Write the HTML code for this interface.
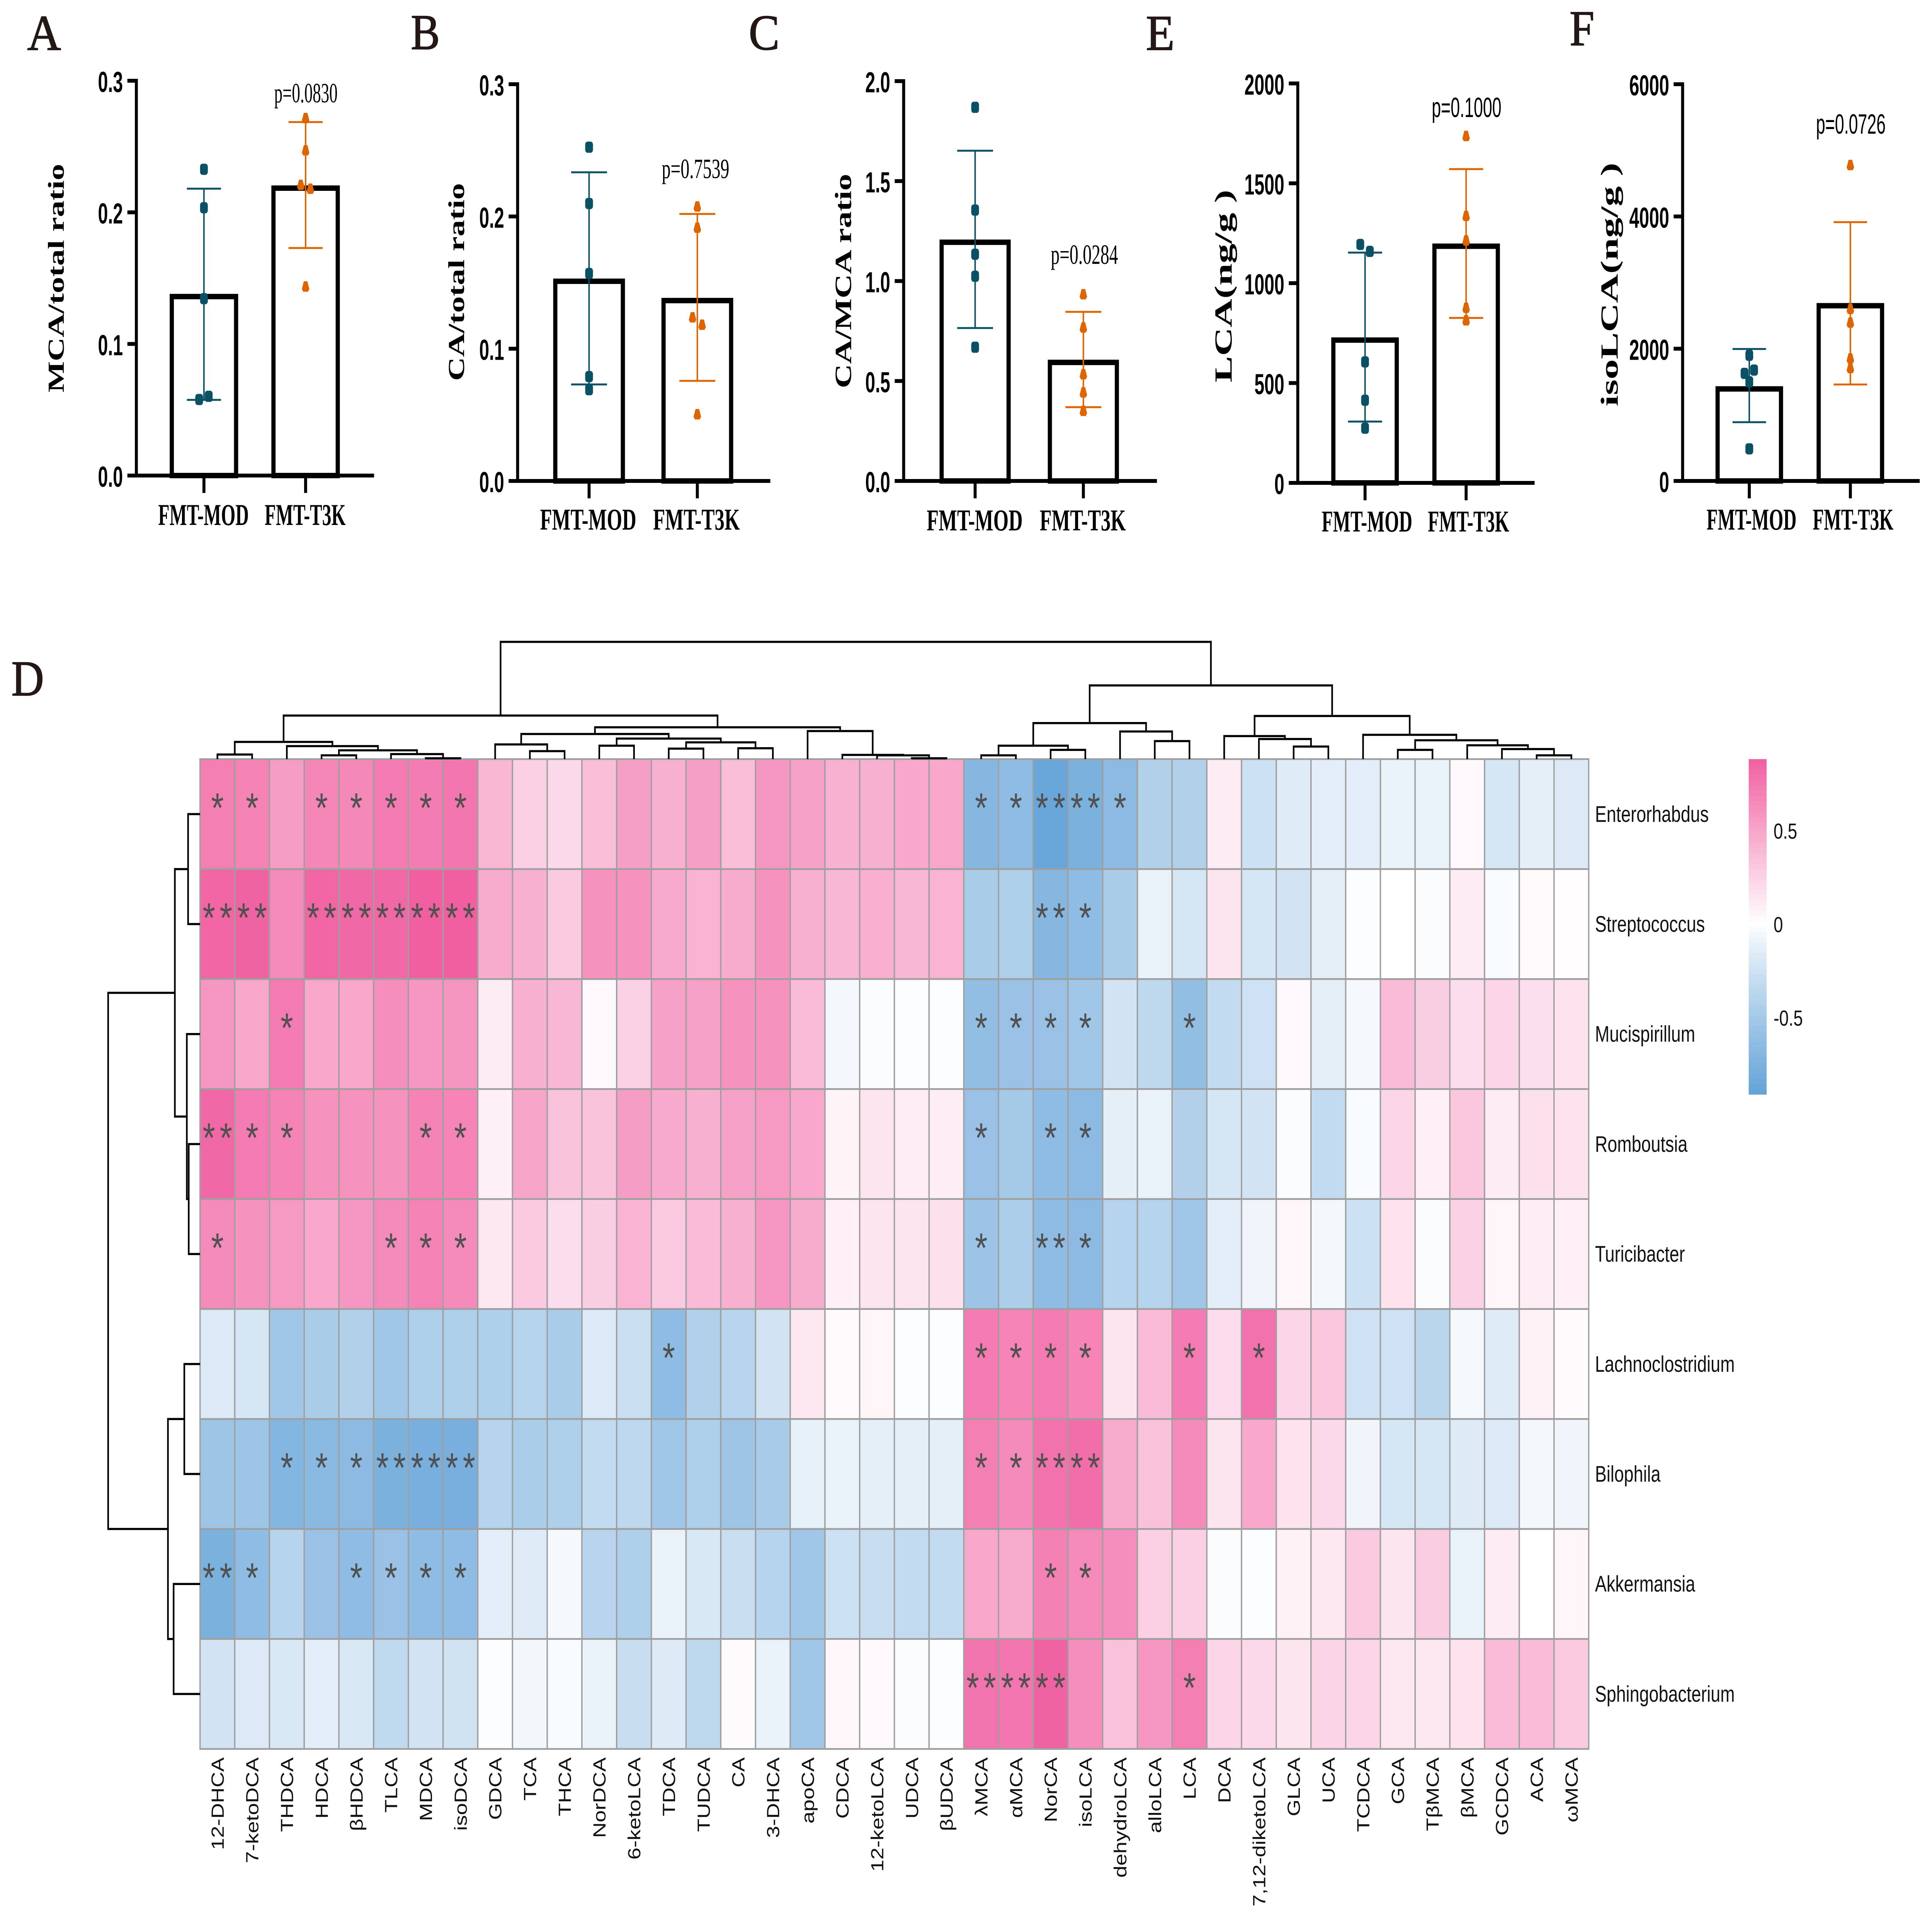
<!DOCTYPE html>
<html lang="en">
<head>
<meta charset="utf-8">
<title>Bile acid ratios and correlation heatmap</title>
<style>
html,body{margin:0;padding:0;background:#fff;width:100%;height:100%;overflow:hidden;}
svg{display:block;width:100vw;height:100vh;}
</style>
</head>
<body>
<svg id="figure" xmlns="http://www.w3.org/2000/svg" viewBox="0 0 6461 4983" preserveAspectRatio="none">
<rect x="0" y="0" width="6461" height="4983" fill="#fff"/>
<g font-family="'Liberation Serif',serif" font-size="130" fill="#231815" stroke="#231815" stroke-width="2">
<text x="91" y="129" textLength="113" lengthAdjust="spacingAndGlyphs">A</text>
<text x="1374" y="127" textLength="97" lengthAdjust="spacingAndGlyphs">B</text>
<text x="2504" y="128" textLength="103" lengthAdjust="spacingAndGlyphs">C</text>
<text x="38" y="1800" textLength="109" lengthAdjust="spacingAndGlyphs">D</text>
<text x="3832" y="129" textLength="96" lengthAdjust="spacingAndGlyphs">E</text>
<text x="5249" y="117" textLength="83" lengthAdjust="spacingAndGlyphs">F</text>
</g>
</svg>
<script>
// ---------- bar chart data ----------
const groups = ['FMT-MOD', 'FMT-T3K'];

const aBars = [0.136, 0.2184];
const aMod = [0.2327, 0.2035, 0.1344, 0.0578, 0.0602];
const aT3k = [0.2715, 0.247, 0.2207, 0.2178, 0.1435];
const aErrMod = [0.0575, 0.218];
const aErrT3k = [0.1729, 0.2686];
const aTicks = [0, 0.1, 0.2, 0.3];
const aTickLabels = ['0.0', '0.1', '0.2', '0.3'];

const bBars = [0.151, 0.1364];
const bMod = [0.2524, 0.2098, 0.1569, 0.0789, 0.069];
const bT3k = [0.2074, 0.1914, 0.1236, 0.118, 0.0503];
const bErrMod = [0.073, 0.2334];
const bErrT3k = [0.0757, 0.2019];
const bTicks = [0, 0.1, 0.2, 0.3];
const bTickLabels = ['0.0', '0.1', '0.2', '0.3'];

const cBars = [1.194, 0.593];
const cMod = [1.869, 1.355, 1.134, 1.024, 0.669];
const cT3k = [0.933, 0.767, 0.533, 0.442, 0.35];
const cErrMod = [0.765, 1.652];
const cErrT3k = [0.369, 0.846];
const cTicks = [0, 0.5, 1, 1.5, 2];
const cTickLabels = ['0.0', '0.5', '1.0', '1.5', '2.0'];

const eBars = [715, 1185];
const eMod = [1194, 1159, 606, 414, 274];
const eT3k = [1736, 1336, 1213, 876, 813];
const eErrMod = [307, 1153];
const eErrT3k = [826, 1571];
const eTicks = [0, 500, 1000, 1500, 2000];
const eTickLabels = ['0', '500', '1000', '1500', '2000'];

const fBars = [1392, 2650];
const fMod = [1901, 1627, 1677, 1499, 486];
const fT3k = [4775, 2600, 2393, 1851, 1705];
const fErrMod = [889, 1996];
const fErrT3k = [1459, 3914];
const fTicks = [0, 2000, 4000, 6000];
const fTickLabels = ['0', '2000', '4000', '6000'];

const pValues = ['p=0.0830', 'p=0.7539', 'p=0.0284', 'p=0.1000', 'p=0.0726'];
const yTitles = ['MCA/total ratio', 'CA/total ratio', 'CA/MCA ratio', 'LCA(ng/g )', 'isoLCA(ng/g )'];

// ---------- heatmap data ----------
const metabolites = ['12-DHCA','7-ketoDCA','THDCA','HDCA','βHDCA','TLCA','MDCA','isoDCA','GDCA','TCA','THCA','NorDCA','6-ketoLCA','TDCA','TUDCA','CA','3-DHCA','apoCA','CDCA','12-ketoLCA','UDCA','βUDCA','λMCA','αMCA','NorCA','isoLCA','dehydroLCA','alloLCA','LCA','DCA','7,12-diketoLCA','GLCA','UCA','TCDCA','GCA','TβMCA','βMCA','GCDCA','ACA','ωMCA'];
const genera = ['Enterorhabdus','Streptococcus','Mucispirillum','Romboutsia','Turicibacter','Lachnoclostridium','Bilophila','Akkermansia','Sphingobacterium'];

const corrEnterorhabdus = [.68,.66,.52,.64,.63,.7,.69,.72,.39,.25,.2,.34,.51,.42,.51,.35,.55,.5,.41,.42,.46,.47,-.66,-.6,-.83,-.72,-.62,-.4,-.4,.1,-.25,-.15,-.13,-.13,-.1,-.1,.03,-.2,-.12,-.17];
const corrStreptococcus = [.82,.83,.62,.82,.8,.8,.85,.85,.44,.42,.28,.58,.58,.45,.4,.44,.58,.42,.38,.43,.38,.4,-.45,-.42,-.66,-.6,-.45,-.1,-.2,.14,-.2,-.22,-.12,-.01,0,-.02,.1,-.03,.02,.01];
const corrMucispirillum = [.55,.47,.7,.47,.47,.6,.55,.56,.1,.42,.38,.03,.24,.5,.5,.58,.58,.36,-.05,-.02,-.01,-.01,-.58,-.55,-.55,-.5,-.22,-.33,-.58,-.3,-.24,.04,-.12,-.04,.36,.26,.18,.22,.17,.15];
const corrRomboutsia = [.8,.7,.66,.58,.58,.58,.66,.65,.08,.48,.32,.32,.52,.45,.42,.5,.54,.46,.06,.14,.09,.09,-.55,-.47,-.6,-.62,-.12,-.1,-.4,-.2,-.22,-.02,-.3,-.03,.22,.08,.3,.1,.16,.15];
const corrTuricibacter = [.62,.58,.54,.46,.55,.62,.66,.62,.12,.28,.18,.26,.4,.28,.36,.42,.55,.44,.08,.14,.14,.16,-.53,-.43,-.6,-.62,-.38,-.38,-.5,-.13,-.07,.05,-.05,-.25,.15,-.02,.24,.05,.09,.08];
const corrLachnoclostridium = [-.17,-.2,-.5,-.45,-.4,-.5,-.42,-.42,-.42,-.38,-.45,-.17,-.26,-.6,-.4,-.36,-.22,.13,.02,.05,-.01,-.01,.7,.65,.7,.65,.14,.36,.7,.19,.75,.22,.3,-.24,-.24,-.35,-.04,-.15,.07,.02];
const corrBilophila = [-.52,-.52,-.67,-.64,-.62,-.72,-.74,-.74,-.38,-.44,-.42,-.3,-.34,-.5,-.42,-.52,-.46,-.11,-.1,-.12,-.12,-.12,.68,.62,.75,.77,.44,.33,.62,.14,.46,.15,.2,-.07,-.2,-.2,-.16,-.17,-.05,-.07];
const corrAkkermansia = [-.72,-.6,-.37,-.55,-.6,-.55,-.6,-.6,-.13,-.15,-.04,-.36,-.42,-.1,-.18,-.27,-.38,-.5,-.25,-.28,-.3,-.3,.47,.44,.67,.62,.6,.25,.25,-.02,-.01,.07,.12,.28,.14,.27,-.1,.1,0,.05];
const corrSphingobacterium = [-.22,-.17,-.18,-.13,-.18,-.32,-.22,-.23,-.01,-.06,-.03,-.09,-.28,-.16,-.33,.02,-.1,-.5,.05,.03,-.02,-.01,.74,.72,.83,.6,.33,.55,.68,.22,.2,.14,.23,.22,.13,.12,.15,.36,.36,.28];
const corrMatrix = [corrEnterorhabdus, corrStreptococcus, corrMucispirillum, corrRomboutsia, corrTuricibacter, corrLachnoclostridium, corrBilophila, corrAkkermansia, corrSphingobacterium];

// star count per cell, one digit per metabolite
const starRows = [
  '11011111 00000000000000 1122100 00000000000',
  '22022222 00000000000000 0021000 00000000000',
  '00100000 00000000000000 1111001 00000000000',
  '21100011 00000000000000 1011000 00000000000',
  '10000111 00000000000000 1021000 00000000000',
  '00000000 00000100000000 1111001 01000000000',
  '00111222 00000000000000 1122000 00000000000',
  '21001111 00000000000000 0011000 00000000000',
  '00000000 00000000000000 2220001 00000000000'
];

// dendrogram merges: [childA, childB, height]; ids >= leaf count refer to earlier merges
const colMerges = [[0,1,11],[6,7,2],[5,41,12],[3,4,9],[43,42,21],[2,44,31],[40,45,41],[9,10,19],[8,47,35],[11,12,32],[13,14,25],[15,16,26],[50,51,40],[49,52,49],[48,53,60],[20,21,2],[19,55,9],[18,56,10],[17,57,67],[54,58,76],[46,59,104],[22,23,9],[24,25,22],[61,62,32],[27,28,43],[26,64,66],[63,65,86],[31,32,30],[30,67,48],[29,68,55],[38,39,9],[37,70,24],[36,71,33],[34,35,22],[73,72,45],[33,74,58],[69,75,103],[66,76,176],[60,77,280]];
const rowMerges = [[0,1,19],[3,4,18],[2,10,21],[9,11,40],[5,6,25],[7,8,42],[13,14,51],[12,15,146]];

const legendTicks = [0.5, 0, -0.5];
const legendTickLabels = ['0.5', '0', '-0.5'];

// ---------- layout ----------
const SERIF = "'Liberation Serif',serif";
const SANS = "'Liberation Sans',sans-serif";
const panels = [
  {id:'a', bars:aBars, mod:aMod, t3k:aT3k, errMod:aErrMod, errT3k:aErrT3k, ticks:aTicks, tickLabels:aTickLabels, max:0.3, p:pValues[0], title:yTitles[0],
   axisX:456, yTop:209, yZero:1231, xEnd:1251, centers:[682,1022], half:107.5, cap:57,
   titleBase:213, titleY:[424,1016], titleSize:76, pBox:[917,265,212], pFont:SERIF, labelBase:1359, labelBoxes:[[529,303],[885,271]]},
  {id:'b', bars:bBars, mod:bMod, t3k:bT3k, errMod:bErrMod, errT3k:bErrT3k, ticks:bTicks, tickLabels:bTickLabels, max:0.3, p:pValues[1], title:yTitles[1],
   axisX:1731, yTop:218, yZero:1245, xEnd:2576, centers:[1970,2332], half:113, cap:60,
   titleBase:1552, titleY:[474,986], titleSize:76, pBox:[2213,461,226], pFont:SERIF, labelBase:1371, labelBoxes:[[1806,322],[2184,290]]},
  {id:'c', bars:cBars, mod:cMod, t3k:cT3k, errMod:cErrMod, errT3k:cErrT3k, ticks:cTicks, tickLabels:cTickLabels, max:2, p:pValues[2], title:yTitles[2],
   axisX:3022, yTop:210, yZero:1245, xEnd:3869, centers:[3261,3623], half:112, cap:60,
   titleBase:2846, titleY:[450,1005], titleSize:78, pBox:[3514,683,225], pFont:SERIF, labelBase:1373, labelBoxes:[[3099,321],[3477,288]]},
  {id:'e', bars:eBars, mod:eMod, t3k:eT3k, errMod:eErrMod, errT3k:eErrT3k, ticks:eTicks, tickLabels:eTickLabels, max:2000, p:pValues[3], title:yTitles[3],
   axisX:4340, yTop:216, yZero:1250, xEnd:5132, centers:[4565,4903], half:106, cap:57,
   titleBase:4119, titleY:[491,990], titleSize:82, pBox:[4788,303,233], pFont:SANS, labelBase:1376, labelBoxes:[[4420,303],[4775,272]]},
  {id:'f', bars:fBars, mod:fMod, t3k:fT3k, errMod:fErrMod, errT3k:fErrT3k, ticks:fTicks, tickLabels:fTickLabels, max:6000, p:pValues[4], title:yTitles[4],
   axisX:5627, yTop:218, yZero:1245, xEnd:6420, centers:[5850,6188], half:106, cap:56,
   titleBase:5410, titleY:[421,1052], titleSize:82, pBox:[6073,346,233], pFont:SANS, labelBase:1371, labelBoxes:[[5707,301],[6062,270]]}
];
const TEAL = '#0b5166';
const ORANGE = '#dd6400';
const NS = 'http://www.w3.org/2000/svg';
const svg = document.getElementById('figure');

function mk(tag, attrs, parent) {
  const node = document.createElementNS(NS, tag);
  for (const k in attrs) node.setAttribute(k, attrs[k]);
  parent.appendChild(node);
  return node;
}

// ---------- bar panels ----------
function dodge(values, max) {
  const offsets = values.map(() => 0);
  const pattern = [-16, 16, 0];
  let run = 0;
  for (let i = 1; i < values.length; i++) {
    if (Math.abs(values[i] - values[i - 1]) / max < 0.024) {
      if (run === 0) offsets[i - 1] = pattern[0];
      run++;
      offsets[i] = pattern[run % 3];
    } else {
      run = 0;
    }
  }
  return offsets;
}

panels.forEach(function (p) {
  const y = v => p.yZero - (v / p.max) * (p.yZero - p.yTop);
  const g = mk('g', {}, svg);
  
  

  // bars
  p.bars.forEach(function (v, i) {
    const bar = mk('rect', {x: p.centers[i] - p.half, y: y(v), width: p.half * 2, height: p.yZero - y(v), fill: 'none', stroke: '#000', 'stroke-width': 14}, g);
    
    
  });

  // axes
  const yAxis = mk('rect', {x: p.axisX - 5, y: p.yTop - 5, width: 10, height: p.yZero - p.yTop + 10, fill: '#000'}, g);
  
  
  const xAxis = mk('rect', {x: p.axisX - 5, y: p.yZero - 5, width: p.xEnd - p.axisX + 5, height: 10, fill: '#000'}, g);
  
  

  p.ticks.forEach(function (t, i) {
    const tick = mk('rect', {x: p.axisX - 30, y: y(t) - 5, width: 30, height: 10, fill: '#000'}, g);
    
    
    const label = mk('text', {transform: 'translate(' + (p.axisX - 45) + ',' + (y(t) + 29) + ') scale(0.8,1)', 'text-anchor': 'end', 'font-family': SANS, 'font-weight': 'bold', 'font-size': 75, fill: '#000'}, g);
    label.textContent = p.tickLabels[i];
    
    
  });

  groups.forEach(function (name, i) {
    const tick = mk('rect', {x: p.centers[i] - 5, y: p.yZero, width: 10, height: 45, fill: '#000'}, g);
    
    
    const label = mk('text', {x: p.labelBoxes[i][0], y: p.labelBase, textLength: p.labelBoxes[i][1], lengthAdjust: 'spacingAndGlyphs', 'font-family': SERIF, 'font-weight': 'bold', 'font-size': 78, fill: '#000'}, g);
    label.textContent = name;
    
    
  });

  // y title
  const title = mk('text', {transform: 'translate(' + p.titleBase + ',' + p.titleY[1] + ') rotate(-90)', textLength: p.titleY[1] - p.titleY[0], lengthAdjust: 'spacingAndGlyphs', 'font-family': SERIF, 'font-weight': 'bold', 'font-size': p.titleSize, fill: '#000'}, g);
  title.textContent = p.title;
  
  

  // p value
  const pv = mk('text', {x: p.pBox[0], y: p.pBox[1], textLength: p.pBox[2], lengthAdjust: 'spacingAndGlyphs', 'font-family': p.pFont, 'font-size': 72, fill: '#000'}, g);
  pv.textContent = p.p;
  
  

  // error bars
  [[p.errMod, TEAL, 0], [p.errT3k, ORANGE, 1]].forEach(function (spec) {
    const cx = p.centers[spec[2]];
    const stem = mk('line', {x1: cx, x2: cx, y1: y(spec[0][0]), y2: y(spec[0][1]), stroke: spec[1], 'stroke-width': 5}, g);
    
    
    spec[0].forEach(function (v) {
      const cap = mk('line', {x1: cx - p.cap, x2: cx + p.cap, y1: y(v), y2: y(v), stroke: spec[1], 'stroke-width': 5}, g);
      
      
    });
  });

  // points
  const modOffsets = dodge(p.mod, p.max);
  p.mod.forEach(function (v, i) {
    const pt = mk('rect', {x: p.centers[0] + modOffsets[i] - 13, y: y(v) - 14.5, width: 26, height: 29, rx: 8, fill: TEAL}, g);
    
    
  });
  const t3kOffsets = dodge(p.t3k, p.max);
  p.t3k.forEach(function (v, i) {
    const px = p.centers[1] + t3kOffsets[i];
    const py = y(v);
    const pt = mk('path', {d: 'M' + (px - 6) + ' ' + (py - 14) + 'H' + (px + 6) + 'L' + (px + 12.5) + ' ' + (py + 6) + 'L' + (px + 8) + ' ' + (py + 13) + 'H' + (px - 8) + 'L' + (px - 12.5) + ' ' + (py + 6) + 'Z', fill: ORANGE}, g);
    
    
  });
});

// ---------- heatmap ----------
const HM = {left: 669, top: 1965, cellW: 116.1, cellH: 284.7};
const colX = i => HM.left + HM.cellW * i;
const rowY = i => HM.top + HM.cellH * i;
const POS = [240, 95, 160];
const NEG = [102, 164, 216];
function corrColor(v) {
  const linear = Math.min(Math.abs(v) / 0.85, 1);
  const t = v >= 0 ? linear : Math.pow(linear, 0.9);
  const c = v >= 0 ? POS : NEG;
  return 'rgb(' + c.map(x => Math.round(255 + (x - 255) * t)).join(',') + ')';
}

const hm = mk('g', {}, svg);



corrMatrix.forEach(function (row, r) {
  row.forEach(function (v, c) {
    const cell = mk('rect', {x: colX(c), y: rowY(r), width: HM.cellW, height: HM.cellH, fill: corrColor(v), stroke: '#9f9f9f', 'stroke-width': 4.5}, hm);
    
    
  });
});
const STAR_SIZE = 108;
const STAR_GAP = 15;
const starGroup = mk('g', {'font-family': SANS, 'font-size': STAR_SIZE, 'letter-spacing': STAR_GAP, fill: '#505050', 'text-anchor': 'middle'}, hm);


starRows.forEach(function (s, r) {
  s.replace(/ /g, '').split('').forEach(function (d, c) {
    const n = Number(d);
    if (!n) return;
    const star = mk('text', {x: colX(c) + HM.cellW / 2 + STAR_GAP / 2, y: rowY(r) + 163}, starGroup);
    star.textContent = '*'.repeat(n);
    
    
  });
});
metabolites.forEach(function (name, c) {
  const label = mk('text', {transform: 'translate(' + (colX(c) + HM.cellW / 2 + 21) + ',4549) rotate(-90) scale(0.95,1)', 'text-anchor': 'end', 'font-family': SANS, 'font-size': 59, fill: '#111'}, hm);
  label.textContent = name;
  
  
});
genera.forEach(function (name, r) {
  const label = mk('text', {x: 5334, y: rowY(r) + HM.cellH / 2 + 20, 'font-family': SANS, 'font-size': 58, fill: '#111'}, hm);
  label.textContent = name;
  
  
});

// ---------- dendrograms ----------
function drawDendro(merges, leafCount, leafPos, place, name) {
  const g = mk('g', {fill: 'none', stroke: '#000', 'stroke-width': 5.5}, svg);
  
  
  const pos = [];
  const height = [];
  for (let i = 0; i < leafCount; i++) { pos[i] = leafPos(i); height[i] = 0; }
  merges.forEach(function (m, k) {
    const id = leafCount + k;
    pos[id] = (pos[m[0]] + pos[m[1]]) / 2;
    height[id] = m[2];
    const link = mk('path', {d: place(pos[m[0]], height[m[0]], pos[m[1]], height[m[1]], m[2])}, g);
    
    
  });
}
const colHeightY = h => HM.top - 1.084 * h;
const rowHeightX = h => HM.left - 2.105 * h;
drawDendro(colMerges, metabolites.length, i => colX(i) + HM.cellW / 2,
  (a, ha, b, hb, h) => 'M' + a + ' ' + colHeightY(ha) + 'V' + colHeightY(h) + 'H' + b + 'V' + colHeightY(hb),
  'column-dendrogram');
drawDendro(rowMerges, genera.length, i => rowY(i) + HM.cellH / 2,
  (a, ha, b, hb, h) => 'M' + rowHeightX(ha) + ' ' + a + 'H' + rowHeightX(h) + 'V' + b + 'H' + rowHeightX(hb),
  'row-dendrogram');

// ---------- colour legend ----------
const LEG = {x: 5848, w: 60, top: 1965, bottom: 2833, zero: 2393, perUnit: 484, bands: 64};
const legend = mk('g', {}, svg);


for (let i = 0; i < LEG.bands; i++) {
  const h = (LEG.bottom - LEG.top) / LEG.bands;
  const yy = LEG.top + h * i;
  const val = (LEG.zero - (yy + h / 2)) / LEG.perUnit;
  const band = mk('rect', {x: LEG.x, y: yy, width: LEG.w, height: h + 0.6, fill: corrColor(val * 0.95)}, legend);
  
  
}
legendTicks.forEach(function (t, i) {
  const label = mk('text', {x: 5931, y: LEG.zero - t * LEG.perUnit + 20, 'font-family': SANS, 'font-size': 57, fill: '#111'}, legend);
  label.textContent = legendTickLabels[i];
  
  
});
</script>
</body>
</html>
